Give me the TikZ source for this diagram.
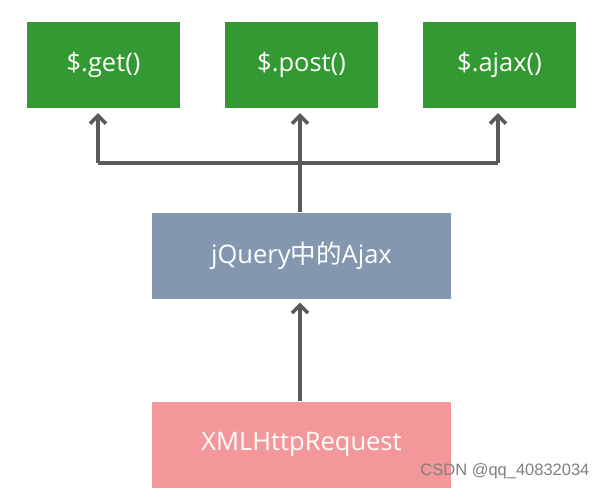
\documentclass[tikz,border=0pt]{standalone}
\usepackage{fontspec}
\setmainfont{Open Sans}
\newfontfamily\cjk{Noto Sans CJK SC}
\newfontfamily\markfont{Liberation Sans}
\usepackage{xcolor}
\usetikzlibrary{positioning,arrows.meta}

\definecolor{boxgreen}{HTML}{339933}
\definecolor{boxblue}{HTML}{8497B0}
\definecolor{boxpink}{HTML}{F4979A}
\definecolor{linegray}{HTML}{595959}

\begin{document}
\begin{tikzpicture}[x=1pt, y=-1pt,
    box/.style={minimum width=153pt, minimum height=86pt, inner sep=0pt,
        text=white, font=\fontsize{25.5}{30}\selectfont},
    wide/.style={box, minimum width=299pt},
    link/.style={draw=linegray, line width=3.5pt},
    arr/.style={link, -{Straight Barb[length=8pt, width=16pt, line width=3.5pt]}}]
    \useasboundingbox (0,0) rectangle (608,496);

    \node[box, fill=boxgreen] (get) at (103.5,65) {\$.get()};
    \node[box, fill=boxgreen] (post) at (301.5,65) {\$.post()};
    \node[box, fill=boxgreen] (ajax) at (499.5,65) {\$.ajax()};

    \node[wide, fill=boxblue] (jq) at (301.5,255.5) {jQuery{\cjk 中的}Ajax};
    \node[wide, fill=boxpink] (xhr) at (301.5,444.5) {XMLHttpRequest};

    \node[text=gray, font=\markfont\fontsize{16.5}{18}\selectfont, anchor=south east]
        (mark) at (593,482) {CSDN @qq\_40832034};

    % bus from the jQuery box up to the three calls
    \coordinate (bus) at (300,163);
    \draw[link] (jq.north -| bus) -- (bus);
    \draw[link] (98,163) -- (498,163);
    \draw[arr] (98,163) -- ([xshift=-5.5pt,yshift=-5pt]get.south);
    \draw[arr] (bus) -- ([xshift=-1.5pt,yshift=-5pt]post.south);
    \draw[arr] (498,163) -- ([xshift=-1.5pt,yshift=-5pt]ajax.south);

    \draw[arr] (xhr.north -| bus) -- ([yshift=-4pt]jq.south -| bus);
\end{tikzpicture}
\end{document}
